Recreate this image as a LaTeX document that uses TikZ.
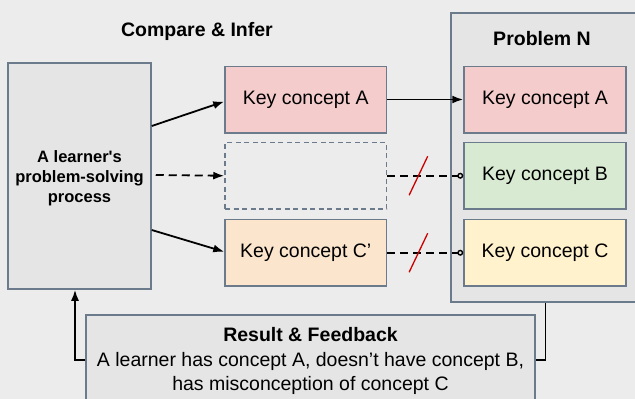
\documentclass[tikz,border=0pt]{standalone}
\usepackage{fontspec}
\setmainfont{Liberation Sans}
\usetikzlibrary{arrows.meta,calc}
\definecolor{bg}{HTML}{ECECEC}
\definecolor{boxgrey}{HTML}{E5E5E5}
\definecolor{edge}{HTML}{6C7B8B}
\definecolor{pinkc}{HTML}{F4CCCC}
\definecolor{greenc}{HTML}{D9EAD3}
\definecolor{yellowc}{HTML}{FFF2CC}
\definecolor{orangec}{HTML}{FCE5CD}
\definecolor{slash}{HTML}{CC0000}
\tikzset{
  box/.style={draw=edge, line width=1.5pt, inner sep=0pt, rectangle},
  concept/.style={box, minimum width=161.5pt, minimum height=66.5pt, font=\fontsize{19.5}{23}\selectfont},
  conn/.style={line width=1.8pt, black, -{Latex[length=11pt,width=8pt]}},
  dconn/.style={conn, dash pattern=on 8pt off 5pt},
  oconn/.style={line width=1.8pt, black, dash pattern=on 8pt off 5pt, -{Circle[open,length=6pt,line width=1.4pt]}},
  cut/.style={slash, line width=1.3pt},
  title/.style={font=\fontsize{19.5}{23}\selectfont\bfseries}
}
\begin{document}
\begin{tikzpicture}[x=1pt,y=-1pt]
\useasboundingbox (0,0) rectangle (635,399);
\clip (0,0) rectangle (635,399);
\fill[bg] (0,0) rectangle (635,399);
% group box
\node[box, fill=boxgrey, minimum width=189pt, minimum height=289pt] (G) at (545.5,157.5) {};
\node[title] (PN) at (542,39) {Problem N};
\node[title] (CI) at (197,31) {Compare \& Infer};
% left box
\node[box, fill=boxgrey, minimum width=143pt, minimum height=226pt] (L) at (79.5,176) {};
\node[align=center, font=\fontsize{16.5}{20}\selectfont\bfseries] (LT) at (79.5,178) {A learner\textquotesingle s\\problem-solving\\process};
% middle boxes
\node[concept, fill=pinkc] (MA) at (305.75,99.5) {Key concept A};
\node[concept, draw=edge, dash pattern=on 5pt off 3.5pt, fill=bg] (MB) at (305.75,175.75) {};
\node[concept, fill=orangec] (MC) at (305.75,252.75) {Key concept C’};
% right boxes
\node[concept, minimum width=162pt, fill=pinkc] (RA) at (545,99.5) {Key concept A};
\node[concept, minimum width=162pt, fill=greenc] (RB) at (545,175.75) {Key concept B};
\node[concept, minimum width=162pt, fill=yellowc] (RC) at (545,252.75) {Key concept C};
% bottom box
\node[box, fill=boxgrey, minimum width=449pt, minimum height=90pt] (F) at (310.5,360) {};
\node[align=center, font=\fontsize{19.5}{24.3}\selectfont] (FT) at (310.5,361) {\textbf{Result \& Feedback}\\A learner has concept A, doesn’t have concept B,\\has misconception of concept C};
% connectors
\draw[conn] ([yshift=50pt]L.east) -- ([yshift=-2pt]MA.west);
\draw[dconn] ([xshift=4pt,yshift=1pt]L.east) -- (MB.west);
\draw[conn] ([yshift=-54pt]L.east) -- ([yshift=1pt]MC.west);
\draw[conn] (MA) -- (RA);
\draw[oconn] (MB) -- (RB);
\draw[oconn] (MC) -- (RC);
\coordinate (s1) at ($(MB.east)!0.41!(RB.west)$);
\coordinate (s2) at ($(MC.east)!0.41!(RC.west)$);
\draw[cut] ([xshift=-9.3pt,yshift=-19.5pt]s1) -- ([xshift=9.3pt,yshift=19.5pt]s1);
\draw[cut] ([xshift=-9.3pt,yshift=-19.5pt]s2) -- ([xshift=9.3pt,yshift=19.5pt]s2);
\draw[line width=1.8pt] (G.south) |- (F.east);
\draw[conn] (F.west) -| ([xshift=-4.5pt]L.south);
\end{tikzpicture}
\end{document}
